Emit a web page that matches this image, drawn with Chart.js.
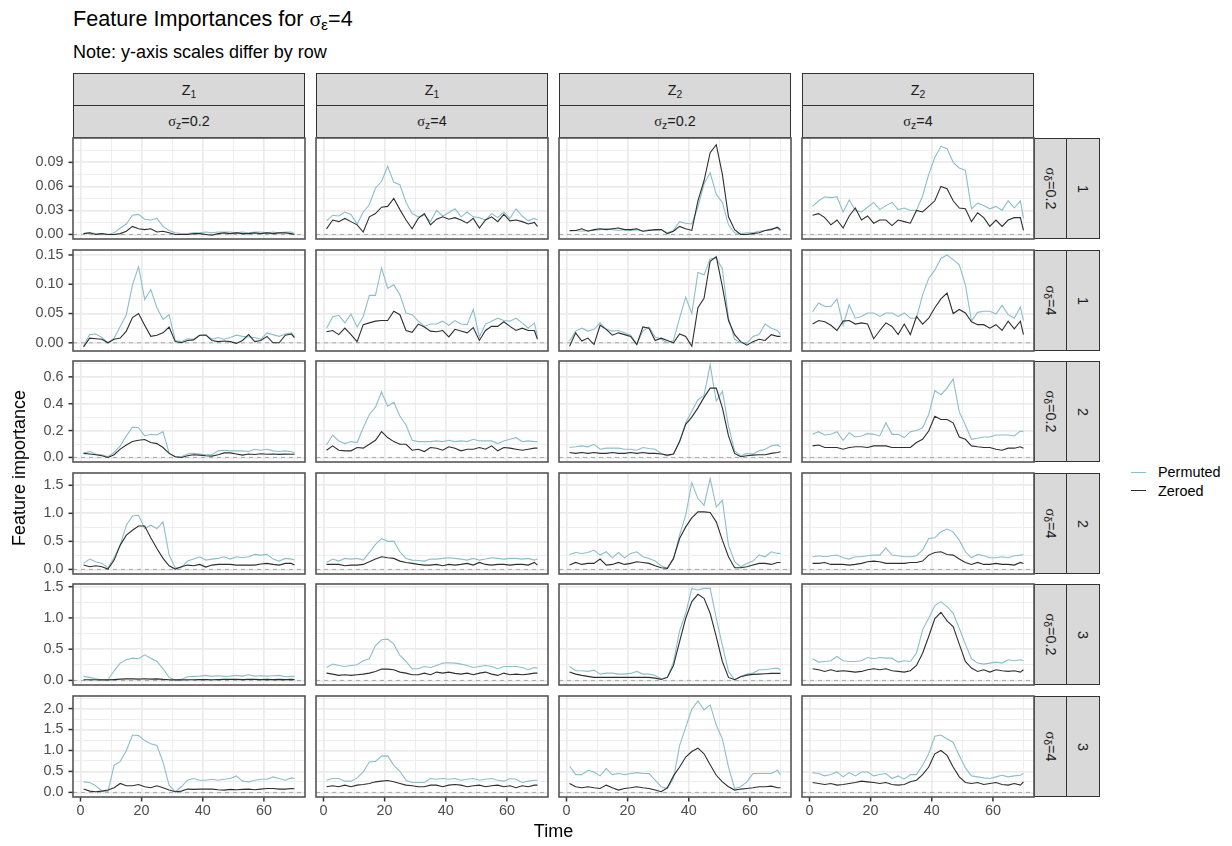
<!DOCTYPE html>
<html>
<head>
<meta charset="utf-8">
<title>Feature Importances</title>
<script src="https://cdn.jsdelivr.net/npm/chart.js@4.4.1/dist/chart.umd.min.js"></script>
<style>
  body { margin: 0; width: 1232px; height: 846px; position: relative; overflow: hidden; background: #fff;
         font-family: "Liberation Sans", Arial, sans-serif; color: #000; }
  .txt { position: absolute; white-space: nowrap; line-height: 1; }
  .sym { font-family: "Liberation Serif", "DejaVu Serif", serif; }
  sub { font-size: 0.72em; vertical-align: -0.28em; line-height: 0; }
  .strip { position: absolute; box-sizing: border-box; background: #d9d9d9; border: 1.5px solid #333;
           display: flex; align-items: center; justify-content: center; font-size: 14.4px; color: #1a1a1a; }
  .strip span.rot { display: inline-block; transform: rotate(90deg); white-space: nowrap; }
  canvas { position: absolute; }
  .key { position: absolute; height: 1.3px; width: 15px; }
</style>
</head>
<body>
<div class="txt" style="left:73px;top:7.7px;font-size:21.6px;">Feature Importances for <span class="sym">σ</span><sub>ε</sub>=4</div>
<div class="txt" style="left:73px;top:43.1px;font-size:18px;">Note: y-axis scales differ by row</div>

<script>
// time points (sampled) and facet labels
const times = [1, 3, 5, 7, 9, 11, 13, 15, 17, 19, 21, 23, 25, 27, 29, 31, 33, 35, 37, 39, 41, 43, 45, 47, 49, 51, 53, 55, 57, 59, 61, 63, 65, 67, 69, 70];
const xTicks = [0, 20, 40, 60];
const xLimits = [-2.45, 73.45];
const featureLabels = ['1', '1', '2', '2'];
const sigmaZLabels = ['0.2', '4', '0.2', '4'];
const sigmaDeltaLabels = ['0.2', '4', '0.2', '4', '0.2', '4'];
const groupLabels = ['1', '1', '2', '2', '3', '3'];

// y axis per row
const yTicksByRow = [
  [0, 0.03, 0.06, 0.09],
  [0, 0.05, 0.10, 0.15],
  [0, 0.2, 0.4, 0.6],
  [0, 0.5, 1.0, 1.5],
  [0, 0.5, 1.0, 1.5],
  [0, 0.5, 1.0, 1.5, 2.0]
];
const yTickLabelsByRow = [
  ['0.00', '0.03', '0.06', '0.09'],
  ['0.00', '0.05', '0.10', '0.15'],
  ['0.0', '0.2', '0.4', '0.6'],
  ['0.0', '0.5', '1.0', '1.5'],
  ['0.0', '0.5', '1.0', '1.5'],
  ['0.0', '0.5', '1.0', '1.5', '2.0']
];
const yLimitsByRow = [
  [-0.0057, 0.1204],
  [-0.0140, 0.1585],
  [-0.034, 0.718],
  [-0.082, 1.719],
  [-0.0735, 1.543],
  [-0.110, 2.300]
];

// row 1: sigma_delta = 0.2, group 1
const permR1C1 = [0.001,0.002,0.001,0.001,0.000,0.002,0.008,0.013,0.024,0.025,0.019,0.018,0.020,0.010,0.005,0.002,0.001,0.001,0.002,0.002,0.003,0.002,0.003,0.003,0.003,0.002,0.003,0.002,0.003,0.003,0.002,0.003,0.002,0.003,0.003,0.001];
const zeroR1C1 = [0.001,0.002,0.000,0.001,0.000,0.000,0.001,0.004,0.010,0.007,0.006,0.007,0.003,0.004,0.002,0.000,0.000,0.000,0.001,0.001,0.000,-0.001,0.001,0.002,0.001,0.002,0.001,0.001,0.002,0.001,0.002,0.001,0.002,0.002,0.001,0.000];
const permR1C2 = [0.017,0.024,0.023,0.028,0.025,0.013,0.028,0.037,0.058,0.066,0.085,0.065,0.062,0.040,0.026,0.022,0.024,0.016,0.030,0.023,0.027,0.032,0.022,0.028,0.022,0.021,0.018,0.026,0.021,0.028,0.020,0.032,0.023,0.017,0.020,0.018];
const zeroR1C2 = [0.007,0.018,0.016,0.020,0.016,0.012,0.003,0.022,0.026,0.034,0.035,0.045,0.031,0.018,0.007,0.020,0.026,0.012,0.019,0.022,0.019,0.021,0.018,0.014,0.020,0.008,0.018,0.022,0.016,0.025,0.017,0.018,0.016,0.013,0.015,0.010];
const permR1C3 = [0.004,0.005,0.004,0.005,0.005,0.006,0.007,0.006,0.005,0.006,0.005,0.006,0.004,0.006,0.005,0.006,0.002,0.005,0.016,0.014,0.013,0.034,0.063,0.077,0.050,0.040,0.012,0.002,0.001,0.002,0.002,0.004,0.005,0.007,0.008,0.004];
const zeroR1C3 = [0.005,0.005,0.007,0.004,0.006,0.007,0.006,0.007,0.008,0.006,0.006,0.007,0.004,0.005,0.006,0.006,0.001,0.004,0.010,0.007,0.005,0.042,0.067,0.102,0.112,0.075,0.022,0.006,0.000,0.000,0.001,0.002,0.005,0.006,0.009,0.006];
const permR1C4 = [0.035,0.042,0.047,0.046,0.047,0.028,0.043,0.030,0.028,0.034,0.040,0.031,0.036,0.040,0.031,0.033,0.030,0.030,0.048,0.075,0.096,0.110,0.107,0.090,0.083,0.080,0.032,0.039,0.036,0.032,0.035,0.030,0.042,0.033,0.042,0.020];
const zeroR1C4 = [0.024,0.026,0.021,0.012,0.018,0.008,0.023,0.033,0.018,0.023,0.014,0.018,0.018,0.011,0.018,0.016,0.014,0.030,0.028,0.035,0.042,0.060,0.057,0.042,0.033,0.032,0.016,0.027,0.021,0.010,0.018,0.010,0.018,0.021,0.021,0.005];

// row 2: sigma_delta = 4, group 1
const permR2C1 = [-0.006,0.014,0.015,0.009,0.000,0.008,0.028,0.048,0.099,0.130,0.074,0.091,0.060,0.040,0.048,0.004,0.002,0.007,0.006,0.013,0.014,0.006,0.009,0.006,0.009,0.013,0.011,0.010,0.009,0.006,0.017,0.014,0.011,0.015,0.017,0.010];
const zeroR2C1 = [-0.007,0.008,0.007,0.006,0.000,0.006,0.008,0.020,0.043,0.050,0.030,0.011,0.013,0.017,0.027,0.002,0.000,0.004,0.005,0.013,0.013,0.004,0.002,0.003,0.002,-0.001,0.004,0.014,0.002,0.004,0.011,0.000,0.000,0.013,0.015,0.009];
const permR2C2 = [0.025,0.044,0.047,0.034,0.049,0.027,0.045,0.081,0.081,0.128,0.093,0.099,0.082,0.051,0.048,0.037,0.028,0.032,0.032,0.037,0.030,0.038,0.032,0.031,0.057,0.010,0.032,0.037,0.042,0.038,0.037,0.042,0.034,0.025,0.034,0.010];
const zeroR2C2 = [0.019,0.021,0.014,0.025,0.014,0.002,0.031,0.034,0.037,0.038,0.038,0.054,0.048,0.021,0.018,0.032,0.027,0.020,0.019,0.021,0.010,0.023,0.020,0.017,0.026,0.004,0.021,0.028,0.028,0.036,0.028,0.021,0.025,0.021,0.021,0.006];
const permR2C3 = [0.003,0.020,0.025,0.020,0.023,0.034,0.023,0.020,0.021,0.017,0.013,-0.002,0.020,0.027,0.010,0.006,0.000,0.004,0.042,0.078,0.050,0.120,0.116,0.143,0.145,0.126,0.042,0.006,0.000,-0.001,0.011,0.014,0.032,0.025,0.021,0.014];
const zeroR2C3 = [-0.006,0.017,0.003,0.008,-0.003,0.030,0.023,0.013,0.017,0.014,0.011,-0.003,0.027,0.025,0.004,0.008,0.004,0.000,0.015,0.011,-0.006,0.060,0.076,0.139,0.147,0.096,0.038,0.014,0.002,-0.004,0.002,0.006,0.004,0.014,0.011,0.011];
const permR2C4 = [0.053,0.068,0.062,0.062,0.075,0.030,0.065,0.042,0.045,0.051,0.051,0.045,0.051,0.051,0.045,0.051,0.042,0.042,0.082,0.110,0.124,0.144,0.150,0.142,0.133,0.099,0.037,0.052,0.054,0.054,0.049,0.064,0.048,0.042,0.061,0.038];
const zeroR2C4 = [0.032,0.038,0.036,0.030,0.021,0.037,0.038,0.032,0.034,0.032,0.007,0.021,0.034,0.028,0.014,0.032,0.014,0.045,0.032,0.042,0.060,0.075,0.085,0.050,0.057,0.051,0.036,0.031,0.031,0.025,0.031,0.021,0.037,0.024,0.037,0.014];

// row 3: sigma_delta = 0.2, group 2
const permR3C1 = [0.032,0.044,0.025,0.020,0.005,0.037,0.086,0.160,0.226,0.221,0.160,0.172,0.167,0.192,0.030,0.005,0.005,0.025,0.030,0.025,0.020,0.020,0.049,0.054,0.049,0.049,0.049,0.044,0.061,0.054,0.061,0.049,0.044,0.049,0.042,0.037];
const zeroR3C1 = [0.030,0.025,0.020,0.012,0.000,0.020,0.062,0.093,0.118,0.128,0.133,0.111,0.103,0.074,0.030,0.005,0.000,0.012,0.020,0.017,0.012,0.010,0.020,0.034,0.034,0.025,0.017,0.025,0.022,0.027,0.024,0.026,0.023,0.025,0.024,0.025];
const permR3C2 = [0.093,0.167,0.123,0.103,0.118,0.111,0.221,0.320,0.374,0.487,0.381,0.411,0.308,0.241,0.128,0.118,0.118,0.118,0.123,0.118,0.128,0.118,0.123,0.118,0.135,0.123,0.123,0.123,0.103,0.123,0.135,0.147,0.118,0.123,0.118,0.118];
const zeroR3C2 = [0.054,0.086,0.054,0.049,0.049,0.074,0.069,0.098,0.128,0.192,0.148,0.118,0.098,0.098,0.054,0.061,0.044,0.074,0.069,0.054,0.079,0.069,0.049,0.061,0.061,0.074,0.061,0.086,0.049,0.074,0.069,0.061,0.054,0.061,0.069,0.069];
const permR3C3 = [0.074,0.079,0.086,0.079,0.098,0.061,0.069,0.069,0.069,0.061,0.061,0.054,0.074,0.066,0.061,0.030,0.012,0.025,0.118,0.258,0.344,0.430,0.462,0.689,0.420,0.492,0.233,0.049,0.012,0.030,0.025,0.049,0.061,0.086,0.093,0.079];
const zeroR3C3 = [0.037,0.030,0.037,0.030,0.037,0.030,0.030,0.037,0.030,0.030,0.037,0.030,0.037,0.030,0.030,0.025,0.017,0.025,0.118,0.246,0.300,0.369,0.447,0.516,0.516,0.369,0.160,0.030,0.005,0.012,0.017,0.020,0.020,0.030,0.037,0.042];
const permR3C4 = [0.172,0.192,0.167,0.172,0.192,0.128,0.184,0.152,0.160,0.177,0.172,0.160,0.258,0.172,0.172,0.148,0.192,0.201,0.221,0.320,0.497,0.467,0.516,0.585,0.339,0.241,0.135,0.143,0.152,0.152,0.167,0.167,0.167,0.160,0.197,0.192];
const zeroR3C4 = [0.086,0.093,0.074,0.074,0.074,0.061,0.074,0.079,0.079,0.074,0.086,0.086,0.086,0.074,0.074,0.074,0.074,0.111,0.135,0.197,0.307,0.282,0.282,0.258,0.152,0.135,0.086,0.079,0.074,0.074,0.061,0.054,0.069,0.069,0.079,0.069];

// row 4: sigma_delta = 4, group 2
const permR4C1 = [0.107,0.184,0.137,0.107,0.030,0.207,0.433,0.789,0.954,0.966,0.729,0.789,0.729,0.848,0.255,0.030,0.030,0.148,0.184,0.225,0.166,0.184,0.196,0.225,0.184,0.225,0.207,0.225,0.267,0.255,0.267,0.184,0.148,0.196,0.184,0.166];
const zeroR4C1 = [0.077,0.047,0.065,0.047,0.006,0.166,0.433,0.611,0.699,0.775,0.775,0.563,0.374,0.196,0.065,0.006,0.047,0.077,0.065,0.089,0.041,0.077,0.089,0.089,0.089,0.077,0.077,0.077,0.077,0.095,0.107,0.089,0.077,0.107,0.107,0.077];
const permR4C2 = [0.124,0.184,0.148,0.196,0.184,0.196,0.166,0.302,0.445,0.550,0.500,0.504,0.314,0.196,0.166,0.160,0.148,0.184,0.184,0.196,0.207,0.196,0.184,0.166,0.196,0.166,0.184,0.207,0.196,0.184,0.196,0.196,0.184,0.196,0.166,0.184];
const zeroR4C2 = [0.089,0.089,0.089,0.065,0.077,0.077,0.089,0.136,0.184,0.225,0.207,0.196,0.148,0.124,0.107,0.089,0.077,0.077,0.089,0.065,0.089,0.077,0.089,0.107,0.077,0.124,0.089,0.077,0.089,0.089,0.077,0.089,0.089,0.077,0.124,0.077];
const permR4C3 = [0.267,0.302,0.285,0.302,0.344,0.255,0.314,0.207,0.302,0.207,0.285,0.314,0.225,0.196,0.148,0.065,0.018,0.184,0.611,0.966,1.547,1.263,1.144,1.620,1.115,1.233,0.433,0.136,0.047,0.107,0.148,0.255,0.225,0.314,0.285,0.285];
const zeroR4C3 = [0.077,0.124,0.089,0.107,0.107,0.184,0.077,0.089,0.124,0.089,0.107,0.136,0.124,0.107,0.065,0.030,0.018,0.196,0.551,0.758,0.919,1.026,1.026,1.014,0.848,0.522,0.225,0.030,0.030,0.047,0.077,0.107,0.107,0.089,0.124,0.124];
const permR4C4 = [0.225,0.243,0.225,0.243,0.255,0.207,0.184,0.225,0.225,0.243,0.255,0.255,0.385,0.255,0.243,0.225,0.225,0.243,0.344,0.551,0.563,0.670,0.720,0.670,0.522,0.314,0.207,0.267,0.243,0.207,0.207,0.225,0.207,0.243,0.255,0.267];
const zeroR4C4 = [0.107,0.107,0.124,0.089,0.089,0.089,0.077,0.089,0.107,0.136,0.148,0.136,0.107,0.107,0.107,0.107,0.124,0.124,0.148,0.255,0.302,0.314,0.267,0.255,0.184,0.124,0.089,0.124,0.089,0.089,0.107,0.089,0.089,0.077,0.124,0.107];

// row 5: sigma_delta = 0.2, group 3
const permR5C1 = [0.064,0.048,0.027,0.011,0.011,0.154,0.277,0.330,0.356,0.346,0.410,0.356,0.303,0.186,0.048,0.005,0.016,0.059,0.064,0.069,0.080,0.064,0.074,0.064,0.069,0.080,0.069,0.090,0.069,0.074,0.069,0.074,0.080,0.059,0.064,0.064];
const zeroR5C1 = [0.011,0.011,0.010,0.008,0.008,0.013,0.020,0.024,0.024,0.021,0.027,0.021,0.024,0.016,0.011,0.008,0.008,0.011,0.011,0.013,0.013,0.011,0.013,0.016,0.016,0.016,0.013,0.016,0.016,0.013,0.016,0.013,0.016,0.013,0.016,0.013];
const permR5C2 = [0.207,0.261,0.239,0.223,0.239,0.250,0.314,0.346,0.559,0.650,0.660,0.580,0.399,0.303,0.186,0.186,0.223,0.207,0.239,0.277,0.282,0.277,0.261,0.239,0.207,0.223,0.239,0.223,0.186,0.223,0.223,0.223,0.207,0.170,0.207,0.197];
const zeroR5C2 = [0.117,0.101,0.080,0.090,0.080,0.090,0.101,0.117,0.144,0.181,0.181,0.170,0.133,0.117,0.090,0.090,0.117,0.090,0.133,0.117,0.133,0.112,0.101,0.117,0.090,0.117,0.133,0.101,0.080,0.117,0.090,0.101,0.090,0.101,0.117,0.117];
const permR5C3 = [0.223,0.154,0.154,0.144,0.165,0.101,0.117,0.117,0.101,0.101,0.112,0.144,0.101,0.101,0.080,0.027,0.048,0.293,0.793,1.074,1.473,1.447,1.473,1.473,0.995,0.559,0.144,0.011,0.064,0.101,0.117,0.170,0.170,0.186,0.197,0.170];
const zeroR5C3 = [0.133,0.101,0.080,0.064,0.048,0.048,0.048,0.048,0.048,0.048,0.048,0.048,0.048,0.048,0.037,0.016,0.048,0.239,0.622,0.995,1.261,1.378,1.314,1.075,0.702,0.303,0.048,0.011,0.059,0.085,0.096,0.101,0.106,0.112,0.112,0.112];
const permR5C4 = [0.346,0.293,0.303,0.314,0.383,0.314,0.303,0.303,0.314,0.367,0.346,0.367,0.356,0.356,0.293,0.314,0.303,0.436,0.809,0.995,1.197,1.261,1.181,1.074,0.835,0.580,0.346,0.277,0.261,0.277,0.293,0.277,0.330,0.314,0.330,0.314];
const zeroR5C4 = [0.186,0.170,0.144,0.170,0.144,0.154,0.144,0.133,0.144,0.170,0.186,0.170,0.186,0.154,0.144,0.133,0.154,0.239,0.434,0.702,0.989,1.090,0.952,0.862,0.580,0.303,0.197,0.144,0.170,0.133,0.170,0.154,0.144,0.154,0.133,0.170];

// row 6: sigma_delta = 4, group 3
const permR6C1 = [0.252,0.236,0.157,0.031,0.024,0.646,0.740,0.992,1.370,1.354,1.236,1.158,1.119,0.724,0.173,0.016,0.134,0.291,0.331,0.291,0.291,0.315,0.291,0.315,0.331,0.394,0.268,0.252,0.291,0.315,0.315,0.370,0.331,0.291,0.346,0.331];
const zeroR6C1 = [0.079,0.031,0.016,0.031,0.055,0.110,0.213,0.157,0.157,0.189,0.134,0.110,0.157,0.110,0.055,0.016,0.031,0.079,0.071,0.079,0.079,0.079,0.063,0.055,0.071,0.063,0.071,0.079,0.063,0.079,0.094,0.094,0.079,0.079,0.094,0.087];
const permR6C2 = [0.291,0.331,0.331,0.268,0.268,0.346,0.488,0.724,0.740,0.866,0.870,0.646,0.504,0.291,0.236,0.236,0.236,0.331,0.315,0.331,0.315,0.331,0.291,0.315,0.331,0.291,0.315,0.331,0.291,0.268,0.331,0.315,0.236,0.268,0.291,0.291];
const zeroR6C2 = [0.134,0.157,0.134,0.173,0.134,0.173,0.189,0.213,0.252,0.268,0.283,0.252,0.213,0.173,0.157,0.134,0.134,0.173,0.173,0.134,0.173,0.189,0.173,0.134,0.157,0.173,0.134,0.157,0.173,0.134,0.157,0.110,0.157,0.134,0.173,0.173];
const permR6C3 = [0.630,0.425,0.425,0.528,0.488,0.394,0.567,0.425,0.449,0.425,0.449,0.472,0.449,0.449,0.291,0.134,0.094,0.331,1.118,1.551,1.984,2.181,1.968,2.087,1.606,1.276,0.606,0.094,0.134,0.252,0.449,0.449,0.449,0.449,0.528,0.425];
const zeroR6C3 = [0.213,0.134,0.110,0.134,0.110,0.094,0.173,0.110,0.055,0.094,0.110,0.134,0.110,0.094,0.055,0.016,0.110,0.394,0.606,0.843,0.976,1.055,0.921,0.661,0.409,0.252,0.134,0.055,0.079,0.094,0.110,0.134,0.134,0.150,0.110,0.110];
const permR6C4 = [0.472,0.449,0.394,0.425,0.488,0.370,0.472,0.394,0.488,0.488,0.394,0.425,0.449,0.331,0.394,0.315,0.425,0.425,0.646,0.921,1.339,1.370,1.276,1.197,0.882,0.583,0.394,0.370,0.346,0.331,0.370,0.409,0.370,0.394,0.409,0.449];
const zeroR6C4 = [0.236,0.213,0.189,0.213,0.173,0.189,0.213,0.236,0.268,0.252,0.236,0.213,0.236,0.189,0.173,0.189,0.252,0.291,0.425,0.606,0.921,1.000,0.882,0.606,0.370,0.236,0.213,0.236,0.189,0.213,0.236,0.189,0.173,0.213,0.173,0.252];

const permutedGrid = [
  [permR1C1, permR1C2, permR1C3, permR1C4],
  [permR2C1, permR2C2, permR2C3, permR2C4],
  [permR3C1, permR3C2, permR3C3, permR3C4],
  [permR4C1, permR4C2, permR4C3, permR4C4],
  [permR5C1, permR5C2, permR5C3, permR5C4],
  [permR6C1, permR6C2, permR6C3, permR6C4]
];
const zeroedGrid = [
  [zeroR1C1, zeroR1C2, zeroR1C3, zeroR1C4],
  [zeroR2C1, zeroR2C2, zeroR2C3, zeroR2C4],
  [zeroR3C1, zeroR3C2, zeroR3C3, zeroR3C4],
  [zeroR4C1, zeroR4C2, zeroR4C3, zeroR4C4],
  [zeroR5C1, zeroR5C2, zeroR5C3, zeroR5C4],
  [zeroR6C1, zeroR6C2, zeroR6C3, zeroR6C4]
];

// layout
const colLeft = [73, 316, 559, 802];
const rowTop = [138, 250, 361, 473, 584, 696];
const PANEL_W = 232, PANEL_H = 101;
const AXIS_W = 62, AXIS_H = 28, PAD = 3;
const PERM_COLOR = '#8abfcd';
const ZERO_COLOR = '#2f2f2f';
const GRID_COLOR = '#ebebeb';

Chart.defaults.font.family = '"Liberation Sans", Arial, sans-serif';

function addDiv(cls, style, html) {
  const d = document.createElement('div');
  d.className = cls;
  d.style.cssText = style;
  d.innerHTML = html;
  document.body.appendChild(d);
  return d;
}

// grid ticks: majors plus the half-way minors that fall inside the limits
function gridTicks(majors, lim) {
  const half = (majors[1] - majors[0]) / 2;
  const out = majors.map(v => ({ value: v, isMajor: true }));
  majors.forEach(v => {
    [v - half, v + half].forEach(m => {
      if (m > lim[0] && m < lim[1] && !out.some(t => Math.abs(t.value - m) < 1e-9)) {
        out.push({ value: m, isMajor: false });
      }
    });
  });
  return out.sort((a, b) => a.value - b.value);
}

function toPoints(vals) {
  return times.map((t, i) => ({ x: t, y: vals[i] }));
}

const panelDeco = {
  id: 'panelDeco',
  beforeDatasetsDraw(chart) {
    const a = chart.chartArea, ctx = chart.ctx;
    const y0 = chart.scales.y.getPixelForValue(0);
    ctx.save();
    ctx.strokeStyle = '#a9a9a9';
    ctx.lineWidth = 1;
    ctx.setLineDash([4, 4]);
    ctx.beginPath();
    ctx.moveTo(a.left, y0);
    ctx.lineTo(a.right, y0);
    ctx.stroke();
    ctx.restore();
  },
  afterDraw(chart, args, opts) {
    const a = chart.chartArea, ctx = chart.ctx;
    ctx.save();
    ctx.strokeStyle = '#333';
    ctx.lineWidth = 1.5;
    if (opts.yMarks) {
      opts.yMarks.forEach(v => {
        const y = chart.scales.y.getPixelForValue(v);
        ctx.beginPath(); ctx.moveTo(a.left - 4.5, y); ctx.lineTo(a.left, y); ctx.stroke();
      });
    }
    if (opts.xMarks) {
      opts.xMarks.forEach(v => {
        const x = chart.scales.x.getPixelForValue(v);
        ctx.beginPath(); ctx.moveTo(x, a.bottom); ctx.lineTo(x, a.bottom + 4.5); ctx.stroke();
      });
    }
    ctx.strokeStyle = '#555';
    ctx.lineWidth = 1.6;
    ctx.strokeRect(a.left, a.top, a.right - a.left, a.bottom - a.top);
    ctx.restore();
  }
};

function makePanel(r, c) {
  const leftSpace = c === 0 ? AXIS_W : PAD;
  const bottomSpace = r === 5 ? AXIS_H : PAD;
  const w = PANEL_W + leftSpace + PAD;
  const h = PANEL_H + PAD + bottomSpace;
  const cv = document.createElement('canvas');
  cv.width = w; cv.height = h;
  cv.style.cssText = `left:${colLeft[c] - leftSpace}px;top:${rowTop[r] - PAD}px;width:${w}px;height:${h}px;`;
  document.body.appendChild(cv);

  const yLim = yLimitsByRow[r];
  const yMajors = yTicksByRow[r];
  const gridWidth = ctx => (ctx.tick && ctx.tick.isMajor ? 1.7 : 0.85);

  new Chart(cv, {
    type: 'line',
    data: {
      datasets: [
        { label: 'Zeroed', data: toPoints(zeroedGrid[r][c]), borderColor: ZERO_COLOR, borderWidth: 1.1,
          pointRadius: 0, tension: 0, order: 0 },
        { label: 'Permuted', data: toPoints(permutedGrid[r][c]), borderColor: PERM_COLOR, borderWidth: 1.1,
          pointRadius: 0, tension: 0, order: 1 }
      ]
    },
    options: {
      responsive: false,
      animation: false,
      events: [],
      layout: {
        autoPadding: false,
        padding: { left: c === 0 ? 0 : PAD, right: PAD, top: PAD, bottom: r === 5 ? 0 : PAD }
      },
      plugins: {
        legend: { display: false },
        tooltip: { enabled: false },
        panelDeco: { yMarks: c === 0 ? yMajors : null, xMarks: r === 5 ? xTicks : null }
      },
      scales: {
        x: {
          type: 'linear',
          min: xLimits[0], max: xLimits[1],
          afterBuildTicks: s => { s.ticks = gridTicks(xTicks, xLimits); },
          afterFit: s => {
            s.height = r === 5 ? AXIS_H : 0;
            s.paddingLeft = 0; s.paddingRight = 0; s.paddingTop = 0; s.paddingBottom = 0;
          },
          border: { display: false },
          grid: { color: GRID_COLOR, lineWidth: gridWidth, drawTicks: false },
          ticks: {
            display: r === 5, padding: 5, autoSkip: false, maxRotation: 0,
            color: '#4d4d4d', font: { size: 14.4 },
            callback: v => (xTicks.includes(v) ? String(v) : '')
          }
        },
        y: {
          type: 'linear',
          min: yLim[0], max: yLim[1],
          afterBuildTicks: s => { s.ticks = gridTicks(yMajors, yLim); },
          afterFit: s => {
            s.width = c === 0 ? AXIS_W : 0;
            s.paddingLeft = 0; s.paddingRight = 0; s.paddingTop = 0; s.paddingBottom = 0;
          },
          border: { display: false },
          grid: { color: GRID_COLOR, lineWidth: gridWidth, drawTicks: false },
          ticks: {
            display: c === 0, padding: 9.5, autoSkip: false,
            color: '#4d4d4d', font: { size: 14.4 },
            callback: v => {
              const i = yMajors.findIndex(m => Math.abs(m - v) < 1e-9);
              return i >= 0 ? yTickLabelsByRow[r][i] : '';
            }
          }
        }
      }
    },
    plugins: [panelDeco]
  });
}

// column strips
for (let c = 0; c < 4; c++) {
  addDiv('strip', `left:${colLeft[c]}px;top:73px;width:${PANEL_W}px;height:33px;`,
    `<span>Z<sub>${featureLabels[c]}</sub></span>`);
  addDiv('strip', `left:${colLeft[c]}px;top:105px;width:${PANEL_W}px;height:33px;`,
    `<span><span class="sym">σ</span><sub>z</sub>=${sigmaZLabels[c]}</span>`);
}
// row strips
const stripX = colLeft[3] + PANEL_W;
for (let r = 0; r < 6; r++) {
  addDiv('strip', `left:${stripX}px;top:${rowTop[r]}px;width:34px;height:${PANEL_H}px;`,
    `<span class="rot"><span class="sym">σ</span><sub>δ</sub>=${sigmaDeltaLabels[r]}</span>`);
  addDiv('strip', `left:${stripX + 32}px;top:${rowTop[r]}px;width:34px;height:${PANEL_H}px;`,
    `<span class="rot">${groupLabels[r]}</span>`);
}

for (let r = 0; r < 6; r++) {
  for (let c = 0; c < 4; c++) makePanel(r, c);
}

// axis titles
addDiv('txt', 'left:19px;top:467.5px;font-size:18px;transform:translate(-50%,-50%) rotate(-90deg);', 'Feature importance');
addDiv('txt', 'left:553.5px;top:821.5px;font-size:18px;transform:translateX(-50%);', 'Time');

// legend
addDiv('key', `left:1131px;top:472px;background:${PERM_COLOR};`, '');
addDiv('key', `left:1131px;top:490px;background:${ZERO_COLOR};`, '');
addDiv('txt', 'left:1158px;top:465px;font-size:14.4px;', 'Permuted');
addDiv('txt', 'left:1158px;top:483.5px;font-size:14.4px;', 'Zeroed');
</script>
</body>
</html>
